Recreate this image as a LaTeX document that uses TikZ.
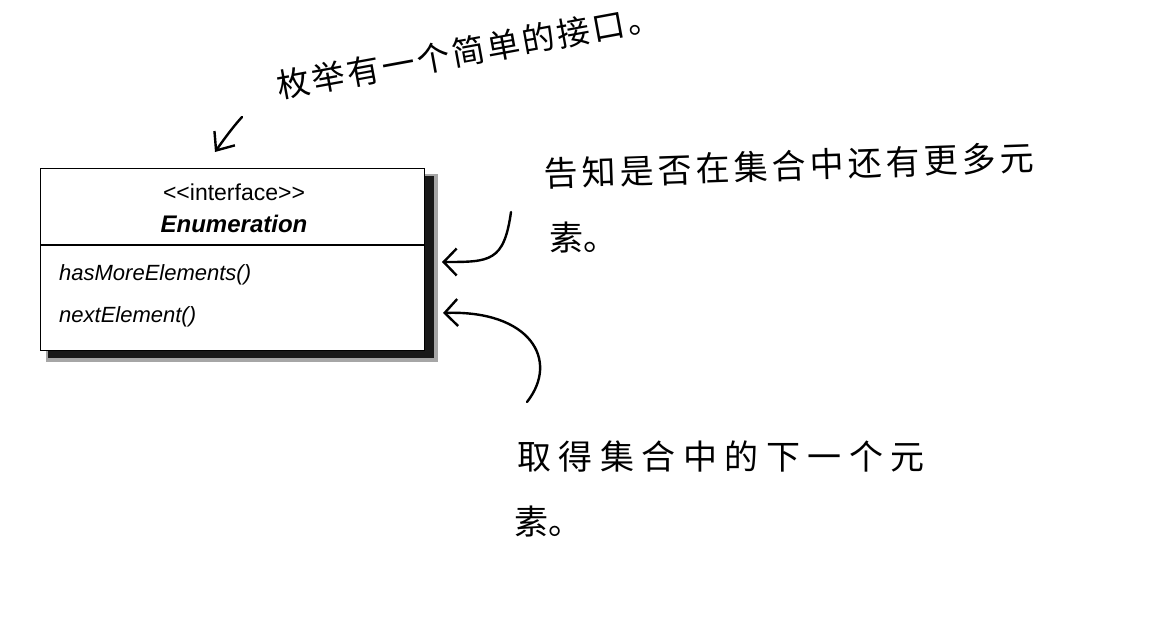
\documentclass[tikz,border=0pt]{standalone}
\usepackage{fontspec}
\setmainfont{Liberation Sans}
\newfontfamily\cjk{Noto Sans CJK SC}
\usetikzlibrary{arrows.meta,calc}
\begin{document}
\begin{tikzpicture}[x=1pt,y=-1pt,
  classbox/.style={draw, line width=1.4pt, fill=white, minimum width=384pt, minimum height=182pt, inner sep=0pt, anchor=north west},
  umltext/.style={inner sep=0pt, anchor=base},
  methodtext/.style={inner sep=0pt, anchor=base west, font=\fontsize{22}{22}\selectfont\itshape},
  note/.style={inner sep=0pt, anchor=base west},
  handarrow/.style={line width=2.4pt, line cap=round, -{Straight Barb[length=13pt,width=27pt,line width=2.4pt]}}
]
\useasboundingbox (0,0) rectangle (1176,626);
% shadow
\fill[black, opacity=.35] (46,174) rectangle (438,362);
\fill[black!90] (48,176) rectangle (434,358);
% class box
\node[classbox] (box) at (40,168) {};
\path (box.north west) ++(0,77) coordinate (divL);
\path (box.north east) ++(0,77) coordinate (divR);
\draw[line width=1.8pt] (divL) -- (divR);
\node[umltext, font=\fontsize{23}{23}\selectfont] (stereo) at (234,200) {<{}<interface>{}>};
\node[umltext, font=\fontsize{24}{24}\selectfont\bfseries\itshape] (name) at (234,232) {Enumeration};
\node[methodtext] (hasmore) at (59,280) {hasMoreElements()};
\node[methodtext] (nextel) at (59,322) {nextElement()};
% notes
\node[note, rotate=10.4, font=\fontsize{33}{33}\selectfont\cjk\addfontfeature{LetterSpace=8}] (note1) at (279,99) {枚举有一个简单的接口。};
\node[note, rotate=2, font=\fontsize{34}{34}\selectfont\cjk\addfontfeature{LetterSpace=12}] (note2a) at (544,187) {告知是否在集合中还有更多元};
\node[note, font=\fontsize{34}{34}\selectfont\cjk] (note2b) at (549,250) {素。};
\node[note, font=\fontsize{34}{34}\selectfont\cjk\addfontfeature{LetterSpace=22}] (note3a) at (517,469) {取得集合中的下一个元};
\node[note, font=\fontsize{34}{34}\selectfont\cjk] (note3b) at (514,534) {素。};
% arrows
\coordinate (a0s) at (242,117);
\coordinate (a0t) at (215,152);
\coordinate (a1s) at (511,212);
\coordinate (a1t) at (442,262);
\coordinate (a2s) at (527,402);
\coordinate (a2t) at (443,313);
\draw[handarrow, -{Straight Barb[length=15pt,width=25pt,line width=2.4pt]}] (a0s) .. controls (232,128) and (222,142) .. (a0t);
\draw[handarrow] (a1s) .. controls (504,262) and (490,262) .. (a1t);
\draw[handarrow] (a2s) .. controls (560,360) and (530,310) .. (a2t);
\end{tikzpicture}
\end{document}
